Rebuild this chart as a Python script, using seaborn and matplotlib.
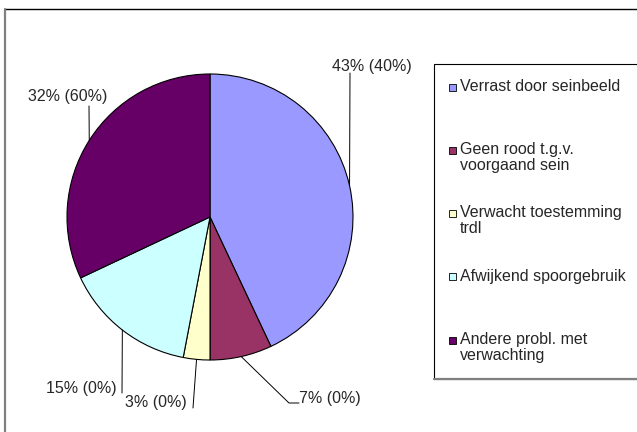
import numpy as np
import matplotlib
matplotlib.use("Agg")
import matplotlib.pyplot as plt
import seaborn as sns
from matplotlib.patches import Rectangle

# data
categories = ["Verrast door seinbeeld", "Geen rood t.g.v.\nvoorgaand sein",
              "Verwacht toestemming\ntrdl", "Afwijkend spoorgebruik",
              "Andere probl. met\nverwachting"]
share = [43, 7, 3, 15, 32]          # first percentage
share_other = [40, 0, 0, 0, 60]     # percentage in brackets
colors = ["#9999FF", "#993366", "#FFFFCC", "#CCFFFF", "#660066"]

sns.set_theme(style="white")
plt.rcParams["font.family"] = ["Liberation Sans", "DejaVu Sans"]

W, H = 637, 432
fig = plt.figure(figsize=(W / 100, H / 100), dpi=100)
ax = fig.add_axes([0, 0, 1, 1])


def py(y):
    # image row (from top) -> axes y
    return H - y


cx, cy, r = 210, py(217), 143
wedges, _ = ax.pie(share, colors=colors, startangle=90, counterclock=False,
                   center=(cx, cy), radius=r,
                   wedgeprops=dict(edgecolor="black", linewidth=0.8))
ax.set_xlim(0, W)
ax.set_ylim(0, H)
ax.set_aspect("equal")
ax.axis("off")

# data labels + leader lines (layout in image pixels)
label_pos = [(372, 66), (330, 398), (156, 403), (81, 388), (68, 97)]
leader_to = [[(350, 73)], [(289, 403), (299, 403)], [(193, 408)],
             [(122, 393)], [(89, 106)]]
fs = 11.5
for w, a, b, (lx, ly), pts in zip(wedges, share, share_other, label_pos, leader_to):
    th = np.deg2rad((w.theta1 + w.theta2) / 2)
    xs = [cx + r * np.cos(th)] + [p[0] for p in pts]
    ys = [cy + r * np.sin(th)] + [py(p[1]) for p in pts]
    ax.plot(xs, ys, color="black", lw=0.7)
    ax.text(lx, py(ly), f"{a}% ({b}%)", ha="center", va="center", fontsize=fs)

# outer chart frame
ax.plot([5, W], [py(9), py(9)], color="black", lw=1.0)
ax.plot([5, 5], [py(9), 0], color="#808080", lw=1.6)

# legend box
ax.add_patch(Rectangle((434, py(379)), 250, 379 - 64, facecolor="white",
                       edgecolor="black", lw=0.8, clip_on=True))
ax.plot([434, W], [py(379), py(379)], color="#808080", lw=1.6)

entry_y = np.linspace(87, 340, len(categories))
for lab, col, ey in zip(categories, colors, entry_y):
    ax.add_patch(Rectangle((449, py(ey) - 3.5), 7, 7, facecolor=col,
                           edgecolor="black", lw=0.6))
    ax.text(460, py(ey) + 8, lab, ha="left", va="top", fontsize=fs,
            linespacing=1.05)

fig.savefig("out.png", dpi=100)
